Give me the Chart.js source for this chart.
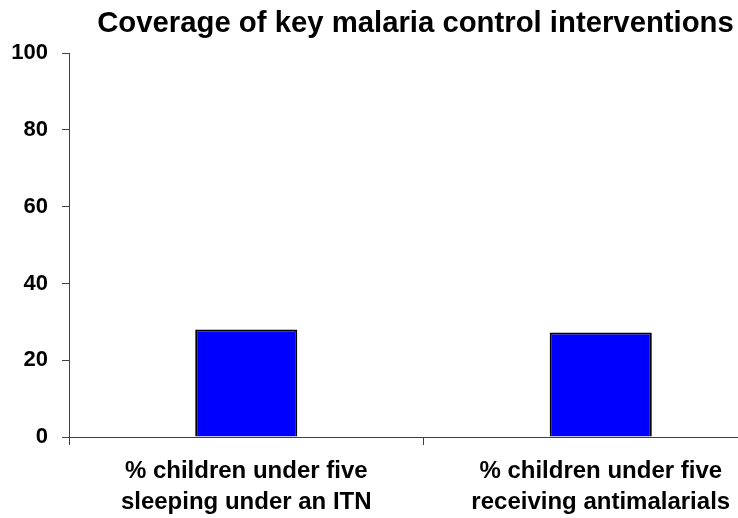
<!DOCTYPE html>
<html>
<head>
<meta charset="utf-8">
<script src="https://cdn.jsdelivr.net/npm/chart.js@4/dist/chart.umd.min.js"></script>
<style>
  html, body { margin: 0; padding: 0; overflow: hidden; background: #fff; }
  #wrap { width: 831px; height: 518px; }
</style>
</head>
<body>
<div id="wrap"><canvas id="chart" width="831" height="518"></canvas></div>
<script>
const categories = [
    ['% children under five', 'sleeping under an ITN'],
    ['% children under five', 'receiving antimalarials']
];
const coverage = [28, 27.2];
const yTicks = [0, 20, 40, 60, 80, 100];

const font = "'Liberation Sans', Arial, Helvetica, sans-serif";
const axisColor = '#404040';

const data = {
    labels: categories,
    datasets: [{
        data: coverage,
        backgroundColor: '#0000ff',
        borderColor: '#000000',
        borderWidth: 2,
        barPercentage: 0.288,
        categoryPercentage: 1,
        yAxisID: 'y'
    }]
};

const config = {
    type: 'bar',
    data: data,
    options: {
        responsive: false,
        animation: false,
        layout: { padding: 0 },
        scales: {
            x: {
                offset: true,
                afterFit: function (scale) { scale.height = 81; },
                border: { display: true, color: axisColor, width: 1 },
                grid: {
                    offset: true,
                    drawOnChartArea: false,
                    drawTicks: true,
                    tickLength: 8,
                    color: axisColor
                },
                ticks: {
                    color: '#000',
                    padding: 11,
                    maxRotation: 0,
                    autoSkip: false,
                    font: { family: font, size: 24, weight: 'bold', lineHeight: 1.29 }
                }
            },
            y: {
                min: yTicks[0],
                max: yTicks[yTicks.length - 1],
                afterFit: function (scale) { scale.width = 69; },
                afterBuildTicks: function (scale) {
                    scale.ticks = yTicks.map(v => ({ value: v }));
                },
                border: { display: true, color: axisColor, width: 1 },
                grid: {
                    drawOnChartArea: false,
                    drawTicks: true,
                    tickLength: 7,
                    color: axisColor
                },
                ticks: {
                    color: '#000',
                    padding: 14,
                    font: { family: font, size: 22, weight: 'bold' }
                }
            },
            // empty right-hand spacer: the plot runs past the window edge
            spacer: {
                position: 'right',
                min: 0,
                max: 100,
                afterFit: function (scale) { scale.width = 53; },
                border: { display: false },
                grid: { display: false, drawTicks: false },
                ticks: { display: false }
            }
        },
        plugins: {
            legend: { display: false },
            tooltip: { enabled: false },
            title: {
                display: true,
                text: 'Coverage of key malaria control interventions',
                color: '#000',
                font: { family: font, size: 29.3, weight: 'bold', lineHeight: 1.2 },
                padding: { top: 6, bottom: 12 }
            }
        }
    }
};

const chart = new Chart(document.getElementById('chart'), config);
</script>
</body>
</html>
